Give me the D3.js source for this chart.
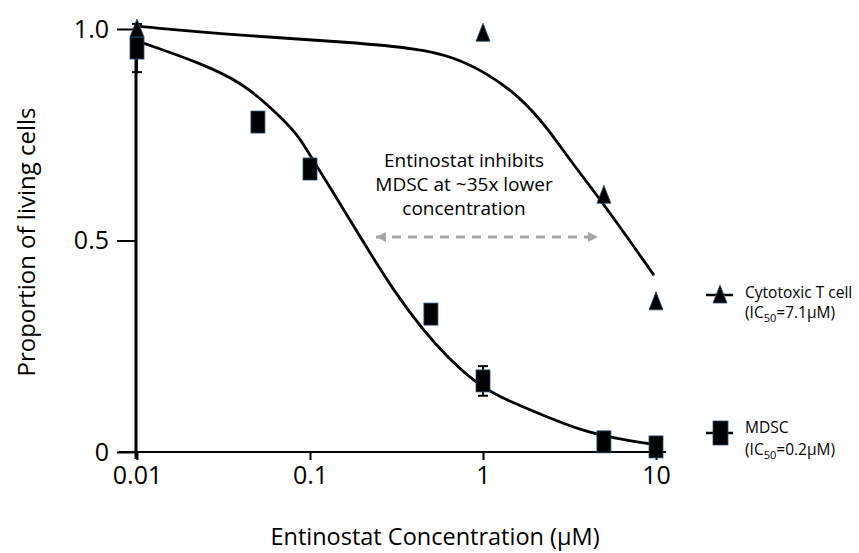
<!DOCTYPE html>
<html><head><meta charset="utf-8">
<script src="https://cdn.jsdelivr.net/npm/d3@7"></script>
<style>
body{margin:0;background:#fff}
text{font-family:"Open Sans",sans-serif;fill:#000}
</style>
</head><body>
<svg id="chart" width="859" height="553"></svg>
<script>
// ---- data ----
const concentrations = [0.01, 0.05, 0.1, 0.5, 1, 5, 10];
const mdscValues = [0.955, 0.78, 0.669, 0.326, 0.168, 0.024, 0.012];
const mdscErrors = [0.057, 0.01, 0.01, 0.01, 0.035, 0.005, 0.005];
const tcellConc = [0.01, 1, 5, 10];
const tcellValues = [1.0, 0.99, 0.607, 0.355];
// fitted curves
const mdscFitX = [0.01, 0.0108, 0.0231, 0.041, 0.0611, 0.0841, 0.104, 0.1306, 0.2, 0.302, 0.45, 0.619, 0.962, 1.49, 2.34, 3.64, 5.64, 10];
const mdscFitY = [0.972, 0.967, 0.92, 0.872, 0.809, 0.754, 0.69, 0.626, 0.501, 0.383, 0.288, 0.225, 0.154, 0.116, 0.083, 0.052, 0.033, 0.017];
const tcellFitX = [0.01, 0.0108, 0.045, 0.17, 0.433, 0.671, 1.055, 1.64, 2.34, 3.18, 4.94, 9.73];
const tcellFitY = [1.007, 1.005, 0.983, 0.969, 0.953, 0.934, 0.896, 0.839, 0.768, 0.69, 0.589, 0.418];
const xTicks = [0.01, 0.1, 1, 10];
const xTickLabels = ["0.01", "0.1", "1", "10"];
const yTicks = [0, 0.5, 1];
const yTickLabels = ["0", "0.5", "1.0"];
const annotationLines = ["Entinostat inhibits", "MDSC at ~35x lower", "concentration"];
const seriesNames = ["Cytotoxic T cell", "MDSC"];
const seriesIC50 = ["7.1", "0.2"];

// ---- chart ----
const svg = d3.select("#chart");
const x = d3.scaleLog().domain([0.01, 10]).range([137, 656]);
const y = d3.scaleLinear().domain([0, 1]).range([452, 29]);

// x axis line
svg.append("line").attr("x1", 119).attr("x2", 666).attr("y1", y(0)).attr("y2", y(0))
  .attr("stroke", "#000").attr("stroke-width", 2);
const xa = svg.append("g").attr("transform", `translate(0,${y(0)})`)
  .call(d3.axisBottom(x).tickValues(xTicks).tickFormat((d, i) => xTickLabels[i]).tickSize(8).tickSizeOuter(0).tickPadding(6));
xa.select(".domain").remove();
xa.selectAll(".tick line").attr("stroke", "#000").attr("stroke-width", 2);
xa.selectAll(".tick text").attr("font-size", 25).attr("font-family", "Open Sans").attr("fill", "#000");

// y axis
svg.append("line").attr("x1", 136).attr("x2", 136).attr("y1", y(1)).attr("y2", y(0) + 7)
  .attr("stroke", "#000").attr("stroke-width", 3);
const ya = svg.append("g").attr("transform", `translate(136,0)`)
  .call(d3.axisLeft(y).tickValues(yTicks).tickFormat((d, i) => yTickLabels[i]).tickSize(19).tickSizeOuter(0).tickPadding(8));
ya.select(".domain").remove();
ya.selectAll(".tick line").attr("stroke", "#000").attr("stroke-width", 2);
ya.selectAll(".tick text").attr("font-size", 25).attr("font-family", "Open Sans").attr("fill", "#000");

// axis titles
svg.append("text").attr("x", 435).attr("y", 545).attr("text-anchor", "middle")
  .attr("font-size", 23.5).text("Entinostat Concentration (µM)");
svg.append("text").attr("transform", "translate(35,242) rotate(-90)").attr("text-anchor", "middle")
  .attr("font-size", 24).text("Proportion of living cells");

// fitted curves
const line = d3.line().x(d => x(d[0])).y(d => y(d[1])).curve(d3.curveBasis);
svg.append("path").datum(mdscFitX.map((v, i) => [v, mdscFitY[i]]))
  .attr("d", line).attr("fill", "none").attr("stroke", "#000").attr("stroke-width", 2.8);
svg.append("path").datum(tcellFitX.map((v, i) => [v, tcellFitY[i]]))
  .attr("d", line).attr("fill", "none").attr("stroke", "#000").attr("stroke-width", 2.8);

// error bars (MDSC)
const eb = svg.append("g");
concentrations.forEach((c, i) => {
  const cx = x(c), y1 = y(mdscValues[i] - mdscErrors[i]), y2 = y(mdscValues[i] + mdscErrors[i]);
  eb.append("line").attr("x1", cx).attr("x2", cx).attr("y1", y1).attr("y2", y2).attr("stroke", "#000").attr("stroke-width", 2);
  eb.append("line").attr("x1", cx - 5).attr("x2", cx + 5).attr("y1", y1).attr("y2", y1).attr("stroke", "#000").attr("stroke-width", 2);
  eb.append("line").attr("x1", cx - 5).attr("x2", cx + 5).attr("y1", y2).attr("y2", y2).attr("stroke", "#000").attr("stroke-width", 2);
});

const markStroke = "#2f4f73";
// MDSC squares
svg.append("g").selectAll("rect").data(concentrations).join("rect")
  .attr("x", d => x(d) - 7).attr("y", (d, i) => y(mdscValues[i]) - 11)
  .attr("width", 14).attr("height", 22)
  .attr("fill", "#000").attr("stroke", markStroke).attr("stroke-width", 0.8);

// T-cell triangles
const tri = "M0,-10L7,8L-7,8Z";
svg.append("g").selectAll("path").data(tcellConc).join("path")
  .attr("transform", (d, i) => `translate(${x(d)},${y(tcellValues[i])})`)
  .attr("d", tri).attr("fill", "#000").attr("stroke", markStroke).attr("stroke-width", 0.8);

// annotation
const ann = svg.append("text").attr("text-anchor", "middle").attr("font-size", 19);
annotationLines.forEach((t, i) => ann.append("tspan").attr("x", 464).attr("y", 167 + i * 24).text(t));

const defs = svg.append("defs");
defs.append("marker").attr("id", "ah").attr("viewBox", "0 0 10 10").attr("refX", 10).attr("refY", 5)
  .attr("markerWidth", 11).attr("markerHeight", 10).attr("markerUnits", "userSpaceOnUse").attr("orient", "auto-start-reverse")
  .append("path").attr("d", "M0,0L10,5L0,10Z").attr("fill", "#a6a6a6");
svg.append("line").attr("x1", 376).attr("x2", 598).attr("y1", 237).attr("y2", 237)
  .attr("stroke", "#a6a6a6").attr("stroke-width", 3).attr("stroke-dasharray", "9,7")
  .attr("marker-start", "url(#ah)").attr("marker-end", "url(#ah)");

// legend
const legY = [295, 433];
seriesNames.forEach((name, i) => {
  const g = svg.append("g").attr("transform", `translate(720,${legY[i]})`);
  g.append("line").attr("x1", -14).attr("x2", 13).attr("stroke", "#000").attr("stroke-width", 2.5);
  if (i === 0) g.append("path").attr("d", tri).attr("fill", "#000").attr("stroke", markStroke).attr("stroke-width", 0.8);
  else g.append("rect").attr("x", -7).attr("y", -12).attr("width", 15).attr("height", 24).attr("fill", "#000").attr("stroke", markStroke).attr("stroke-width", 0.8);
  const t = g.append("text").attr("font-size", 15.5);
  t.append("tspan").attr("x", 25).attr("y", i === 0 ? 3 : 0).text(name);
  const t2 = g.append("text").attr("x", 25).attr("y", i === 0 ? 23 : 22).attr("font-size", 15.5);
  t2.append("tspan").text("(IC");
  t2.append("tspan").attr("font-size", 11).attr("dy", 4).text("50");
  t2.append("tspan").attr("dy", -4).text("=" + seriesIC50[i] + "µM)");
});
</script>
</body></html>
